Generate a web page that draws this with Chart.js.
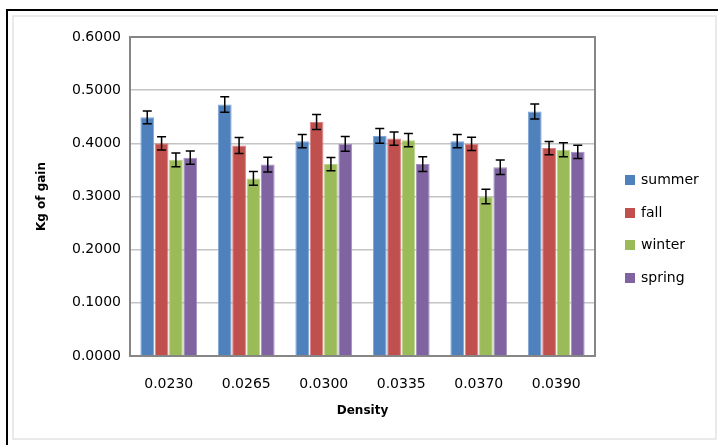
<!DOCTYPE html>
<html>
<head>
<meta charset="utf-8">
<script src="https://cdn.jsdelivr.net/npm/chart.js@4.4.0/dist/chart.umd.min.js"></script>
<style>
  body { margin: 0; background: #fff; }
  #wrap { width: 718px; height: 445px; }
</style>
</head>
<body>
<div id="wrap"><canvas id="chart" width="718" height="445"></canvas></div>
<script>
// Data
const densities = ['0.0230', '0.0265', '0.0300', '0.0335', '0.0370', '0.0390'];
const summer = [0.449, 0.473, 0.404, 0.414, 0.404, 0.460];
const fall   = [0.400, 0.396, 0.440, 0.409, 0.399, 0.391];
const winter = [0.369, 0.334, 0.361, 0.406, 0.300, 0.388];
const spring = [0.373, 0.360, 0.399, 0.361, 0.355, 0.384];
// error bar half widths
const summerErr = [0.012, 0.0145, 0.0125, 0.014, 0.0125, 0.014];
const fallErr   = [0.0125, 0.015, 0.014, 0.0125, 0.0125, 0.0125];
const winterErr = [0.013, 0.013, 0.0125, 0.0125, 0.0138, 0.013];
const springErr = [0.0125, 0.014, 0.0138, 0.014, 0.0138, 0.0125];
const yTicks = [0, 0.1, 0.2, 0.3, 0.4, 0.5, 0.6];

const seasons = [
    { label: 'summer', data: summer, err: summerErr, color: '#4F81BD', edge: '#7fa6d8' },
    { label: 'fall', data: fall, err: fallErr, color: '#C0504D', edge: '#d98280' },
    { label: 'winter', data: winter, err: winterErr, color: '#9BBB59', edge: '#bcd38d' },
    { label: 'spring', data: spring, err: springErr, color: '#8064A2', edge: '#a48fc0' }
];

const FONT = 'DejaVu Sans';

// frame, plot border, error bars and legend
const extras = {
    id: 'extras',
    beforeDraw(chart) {
        const ctx = chart.ctx;
        ctx.save();
        ctx.fillStyle = '#fff';
        ctx.fillRect(0, 0, chart.width, chart.height);
        ctx.strokeStyle = '#e3e3e3';
        ctx.lineWidth = 1.5;
        ctx.strokeRect(13, 16, 703, 423);
        ctx.strokeStyle = '#000';
        ctx.lineWidth = 2;
        ctx.beginPath();
        ctx.moveTo(7, 445);
        ctx.lineTo(7, 10);
        ctx.lineTo(718, 10);
        ctx.stroke();
        ctx.restore();
    },
    afterDatasetsDraw(chart) {
        const ctx = chart.ctx;
        const y = chart.scales.y;
        ctx.save();
        ctx.strokeStyle = '#000';
        ctx.lineWidth = 1.5;
        chart.data.datasets.forEach((ds, i) => {
            const meta = chart.getDatasetMeta(i);
            meta.data.forEach((bar, j) => {
                const v = ds.data[j];
                const e = seasons[i].err[j];
                const x = bar.x;
                const top = y.getPixelForValue(v + e);
                const bot = y.getPixelForValue(v - e);
                ctx.beginPath();
                ctx.moveTo(x, top);
                ctx.lineTo(x, bot);
                ctx.moveTo(x - 4.5, top);
                ctx.lineTo(x + 4.5, top);
                ctx.moveTo(x - 4.5, bot);
                ctx.lineTo(x + 4.5, bot);
                ctx.stroke();
            });
        });
        ctx.restore();
    },
    afterDraw(chart) {
        const ctx = chart.ctx;
        const a = chart.chartArea;
        ctx.save();
        ctx.strokeStyle = '#868686';
        ctx.lineWidth = 2;
        ctx.strokeRect(a.left, a.top, a.right - a.left, a.bottom - a.top);

        // legend
        const ys = [180, 213, 245, 278];
        ctx.font = '14px "' + FONT + '"';
        ctx.textBaseline = 'middle';
        seasons.forEach((s, i) => {
            ctx.fillStyle = s.color;
            ctx.fillRect(625, ys[i] - 5, 10, 10);
            ctx.fillStyle = '#000';
            ctx.fillText(s.label, 641, ys[i]);
        });
        ctx.restore();
    }
};

new Chart(document.getElementById('chart'), {
    type: 'bar',
    data: {
        labels: densities,
        datasets: seasons.map(s => ({
            label: s.label,
            data: s.data,
            backgroundColor: s.color,
            borderColor: s.edge,
            borderWidth: 1,
            categoryPercentage: 0.74,
            barPercentage: 0.96
        }))
    },
    options: {
        responsive: false,
        animation: false,
        devicePixelRatio: 1,
        layout: { padding: { top: 37, right: 123, bottom: 0, left: 0 } },
        plugins: {
            legend: { display: false },
            tooltip: { enabled: false }
        },
        scales: {
            x: {
                afterFit: s => { s.height = 89; },
                grid: { display: false, drawTicks: false },
                border: { display: false },
                ticks: { color: '#000', padding: 20, font: { family: FONT, size: 14 } },
                title: {
                    display: true,
                    text: 'Density',
                    color: '#000',
                    font: { family: FONT, size: 12, weight: 'bold' },
                    padding: { top: 0, bottom: 27 }
                }
            },
            y: {
                min: 0,
                max: 0.6,
                afterFit: s => { s.width = 130; },
                afterBuildTicks: s => { s.ticks = yTicks.map(v => ({ value: v })); },
                grid: { color: '#c4c4c4', lineWidth: 1.5, drawTicks: false },
                border: { display: false },
                ticks: {
                    color: '#000',
                    padding: 9,
                    font: { family: FONT, size: 14 },
                    callback: v => v.toFixed(4)
                },
                title: {
                    display: true,
                    text: 'Kg of gain',
                    color: '#000',
                    font: { family: FONT, size: 12, weight: 'bold' },
                    padding: { top: 35, bottom: 0 }
                }
            }
        }
    },
    plugins: [extras]
});
</script>
</body>
</html>
